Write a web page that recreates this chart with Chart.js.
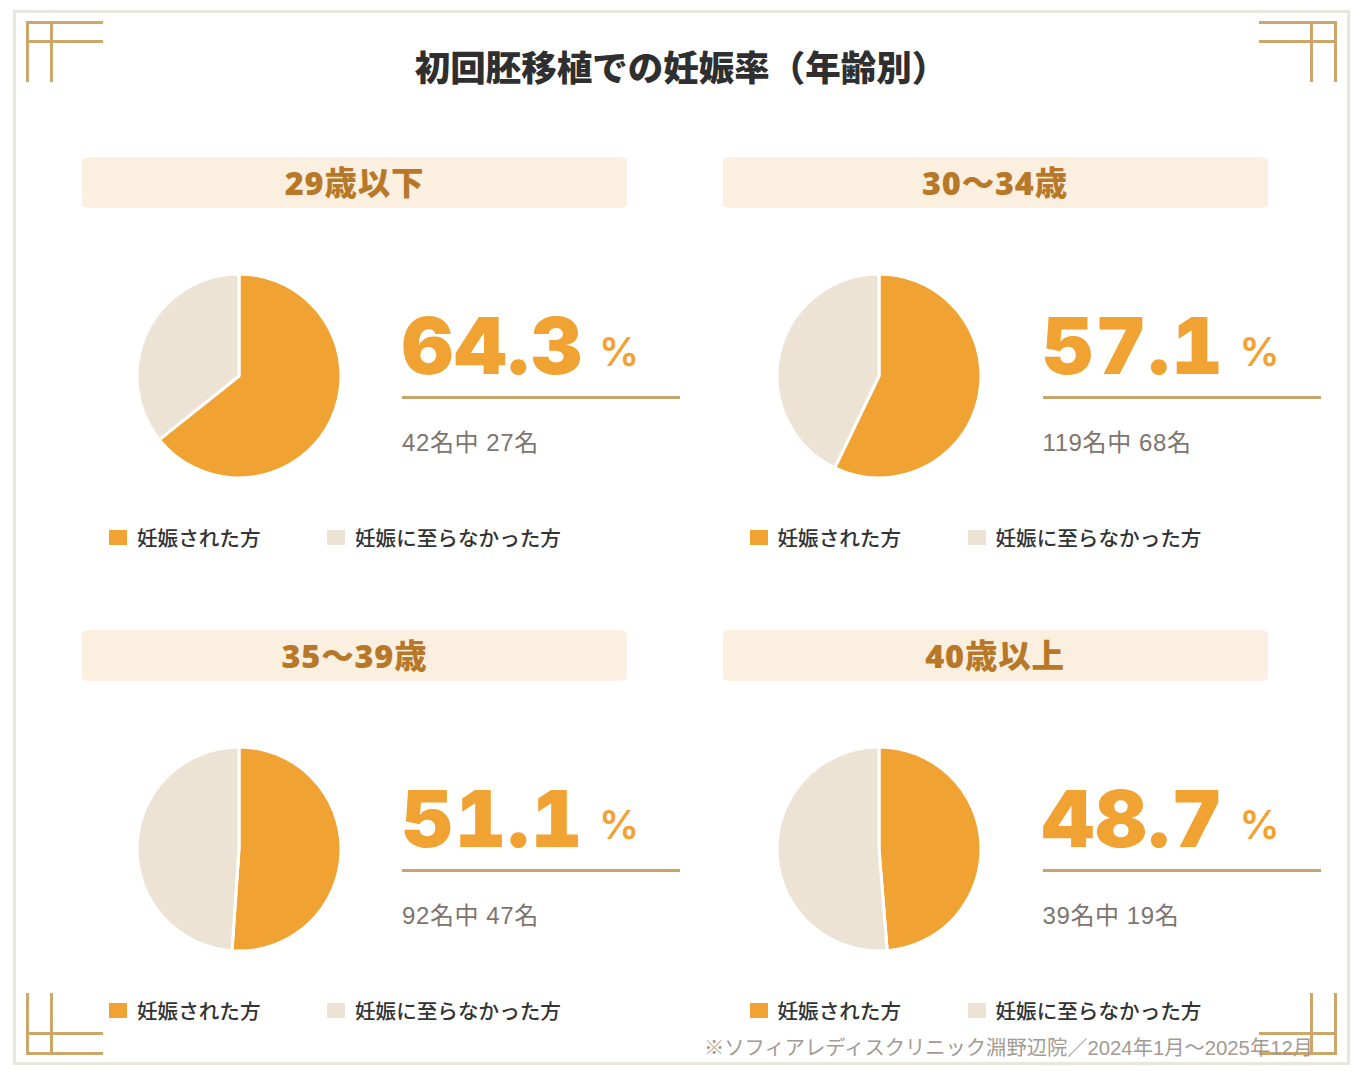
<!DOCTYPE html>
<html lang="ja">
<head>
<meta charset="utf-8">
<script src="https://cdn.jsdelivr.net/npm/chart.js@4"></script>
<style>
  html, body { margin:0; padding:0; background:#fff; }
  body { width:1362px; height:1075px; position:relative; overflow:hidden;
         font-family:"Liberation Sans","Noto Sans CJK JP",sans-serif; }
  .frame { position:absolute; left:13px; top:10px; width:1331px; height:1049px;
           border:3px solid #e9e6de; }
  .orn { position:absolute; background:#cda769; }
  .title { position:absolute; left:0; width:1362px; top:40px; height:52px; line-height:52px;
           text-align:center; font-size:35.5px; font-weight:900; color:#2f2f2f;
           font-family:"Noto Sans CJK JP",sans-serif; }
  .band { position:absolute; width:545px; height:51px; background:#fbefdf;
          border-radius:10px / 3px; text-align:center; line-height:51px;
          font-size:32.5px; font-weight:900; color:#b8782a; letter-spacing:0.8px;
          font-family:"Noto Sans","Noto Sans CJK JP",sans-serif; }
  .pie { position:absolute; width:212px; height:212px; }
  .num { position:absolute; height:90px; display:flex; align-items:baseline; white-space:nowrap; }
  .num .v { font-family:Inter,"Noto Sans",sans-serif; font-weight:900; font-size:79px; color:#f0a232;
            letter-spacing:2px; line-height:90px; font-feature-settings:"tnum" 1; }
  .num .p { font-family:Inter,"Noto Sans",sans-serif; font-weight:600; font-size:40px; color:#f0a232;
            margin-left:15px; position:relative; top:-8px; }
  .rule { position:absolute; width:278px; height:3px; background:#c9a46a; }
  .sub { position:absolute; font-size:24px; letter-spacing:0.6px; color:#7d746d; line-height:30px; white-space:nowrap; }
  .leg { position:absolute; display:flex; align-items:center; font-size:20.6px; font-weight:500; color:#333;
         white-space:nowrap; height:30px; font-family:"Noto Sans CJK JP",sans-serif; }
  .box { position:absolute; width:18px; height:15px; }
  .foot { position:absolute; right:49px; top:1034px; font-size:20.3px; color:#a39a92; line-height:28px; white-space:nowrap; }
</style>
</head>
<body>
<div class="frame"></div>
<div id="orns"></div>
<div class="title">初回胚移植での妊娠率（年齢別）</div>
<div id="panels"></div>
<div class="foot">※ソフィアレディスクリニック淵野辺院／2024年1月〜2025年12月</div>
<script>
// ---- data ----
const categories = ['29歳以下', '30〜34歳', '35〜39歳', '40歳以上'];
const totals = [42, 119, 92, 39];
const pregnant = [27, 68, 47, 19];
const notPregnant = [15, 51, 45, 20];
const rates = ['64.3', '57.1', '51.1', '48.7'];
const legendLabels = ['妊娠された方', '妊娠に至らなかった方'];
const sliceColors = ['#f0a232', '#ece3d5'];

// ---- ornaments ----
const orns = document.getElementById('orns');
function line(x, y, w, h) {
  const d = document.createElement('div');
  d.className = 'orn';
  d.style.left = x + 'px'; d.style.top = y + 'px';
  d.style.width = w + 'px'; d.style.height = h + 'px';
  orns.appendChild(d);
}
// top-left
line(26, 21, 77, 2.5); line(26, 40, 77, 2.5); line(26, 21, 2.5, 61); line(50, 21, 2.5, 61);
// top-right
line(1259, 21, 77, 2.5); line(1259, 40, 77, 2.5); line(1310, 21, 2.5, 61); line(1334, 21, 2.5, 61);
// bottom-left
line(26, 993, 2.5, 62); line(50, 993, 2.5, 62); line(26, 1032, 77, 2.5); line(26, 1052, 77, 2.5);
// bottom-right
line(1310, 993, 2.5, 62); line(1334, 993, 2.5, 62); line(1259, 1032, 77, 2.5); line(1259, 1052, 77, 2.5);

// ---- panels ----
const panels = document.getElementById('panels');
const colX = [0, 640.5];
const rowY = [0, 473];
categories.forEach((cat, i) => {
  const dx = colX[i % 2], dy = rowY[Math.floor(i / 2)];
  const add = (html) => { const t = document.createElement('div'); t.innerHTML = html; const el = t.firstElementChild; panels.appendChild(el); return el; };

  const band = add('<div class="band"></div>');
  band.textContent = cat;
  band.style.left = (82 + dx) + 'px'; band.style.top = (157 + dy) + 'px';

  const cv = add('<canvas class="pie" width="212" height="212"></canvas>');
  cv.style.left = (238.5 + dx - 106) + 'px'; cv.style.top = (376 + dy - 106) + 'px';
  new Chart(cv, {
    type: 'pie',
    data: {
      labels: legendLabels,
      datasets: [{
        data: [pregnant[i], notPregnant[i]],
        backgroundColor: sliceColors,
        borderColor: '#ffffff',
        borderWidth: 3
      }]
    },
    options: {
      responsive: false,
      animation: false,
      radius: 102,
      layout: { padding: 0 },
      plugins: { legend: { display: false }, tooltip: { enabled: false } }
    }
  });

  const num = add('<div class="num"><span class="v"></span><span class="p">%</span></div>');
  num.querySelector('.v').textContent = rates[i];
  num.style.left = (402 + dx) + 'px'; num.style.top = (300 + dy) + 'px';

  const rule = add('<div class="rule"></div>');
  rule.style.left = (402 + dx) + 'px'; rule.style.top = (396 + dy) + 'px';

  const sub = add('<div class="sub"></div>');
  sub.textContent = totals[i] + '名中 ' + pregnant[i] + '名';
  sub.style.left = (402 + dx) + 'px'; sub.style.top = (428 + dy) + 'px';

  legendLabels.forEach((lab, k) => {
    const bx = [109, 327][k], tx = [137, 355][k];
    const b = add('<div class="box"></div>');
    b.style.background = sliceColors[k];
    b.style.left = (bx + dx) + 'px'; b.style.top = (530 + dy) + 'px';
    const l = add('<div class="leg"></div>');
    l.textContent = lab;
    l.style.left = (tx + dx) + 'px'; l.style.top = (522 + dy) + 'px';
  });
});
</script>
</body>
</html>
